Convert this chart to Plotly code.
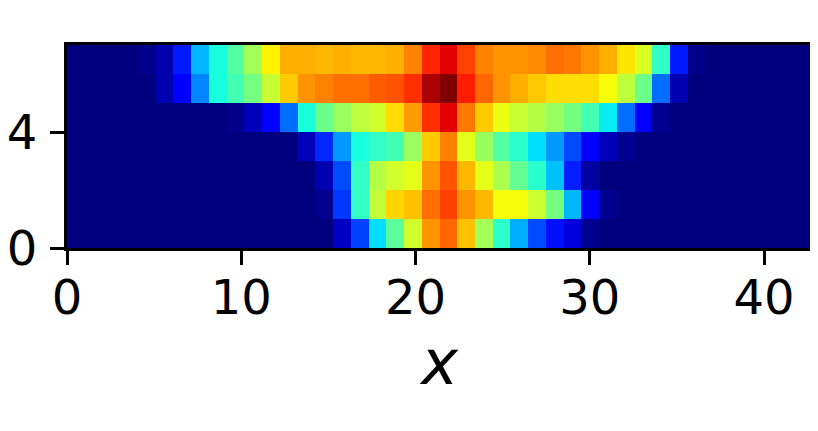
import plotly.graph_objects as go

row0 = [0]*15 + [.06,.19,.35,.46,.59,.75,.80,.70,.54,.405,.30,.20,.14,.08,.015] + [0]*12
row1 = [0]*14 + [.015,.18,.41,.575,.68,.70,.79,.84,.75,.71,.63,.63,.585,.49,.31,.11,.015] + [0]*11
row2 = [0]*14 + [.045,.20,.41,.56,.59,.61,.75,.82,.71,.61,.55,.47,.40,.32,.155,.03] + [0]*12
row3 = [0]*13 + [.05,.165,.28,.38,.41,.43,.53,.69,.77,.61,.53,.45,.40,.35,.28,.20,.125,.05,.015] + [0]*10
row4 = [0]*9 + [.01,.05,.11,.235,.38,.48,.53,.57,.59,.67,.74,.86,.93,.78,.69,.62,.58,.56,.53,.49,.43,.36,.235,.11,.015] + [0]*8
row5 = [0]*5 + [.04,.12,.26,.38,.43,.49,.58,.69,.75,.77,.79,.79,.81,.82,.86,.97,1.0,.88,.80,.75,.72,.69,.67,.67,.67,.63,.57,.48,.235,.04] + [0]*7
row6 = [0]*4 + [.01,.04,.15,.31,.38,.45,.54,.65,.72,.72,.71,.72,.71,.71,.72,.77,.87,.93,.84,.77,.75,.75,.76,.79,.78,.75,.72,.66,.60,.41,.15,.01] + [0]*6
z_rows = [row0, row1, row2, row3, row4, row5, row6]

x_ticks = [0, 10, 20, 30, 40]
y_ticks = [0, 4]
x_limit = 42.75
y_limit = 7
x_title = "<i>x</i>"

jet = [[0, "#00007f"], [0.11, "#0000ff"], [0.125, "#0000ff"], [0.35, "#00dfff"], [0.375, "#14ffe2"],
       [0.5, "#7cff79"], [0.64, "#ffff00"], [0.66, "#ffe600"], [0.89, "#ff1300"], [0.91, "#ff0000"], [1, "#7f0000"]]

fig = go.Figure(go.Heatmap(
    z=z_rows, x0=x_limit / len(row0) / 2, dx=x_limit / len(row0), y0=0.5, dy=1,
    colorscale=jet, zmin=0, zmax=1, zsmooth=False, showscale=False,
))
axis = dict(showgrid=False, zeroline=False, showline=True, linecolor="black", linewidth=3, mirror=True,
            ticks="outside", ticklen=14, tickwidth=3, tickcolor="black", automargin=False,
            tickfont=dict(family="DejaVu Sans", size=48, color="black"))
fig.update_layout(
    width=811, height=424, margin=dict(l=59, r=7, t=37, b=184),
    paper_bgcolor="white", plot_bgcolor="white",
    xaxis=dict(range=[0, x_limit], tickmode="array", tickvals=x_ticks, ticktext=[str(v) for v in x_ticks],
               ticklabelstandoff=-9,
               title=dict(text=x_title, font=dict(family="DejaVu Sans", size=62, color="black"), standoff=18), **axis),
    yaxis=dict(range=[0, y_limit], tickmode="array", tickvals=y_ticks, ticktext=[str(v) for v in y_ticks],
               ticklabelstandoff=3, **axis),
)
fig.write_html("out.html")
